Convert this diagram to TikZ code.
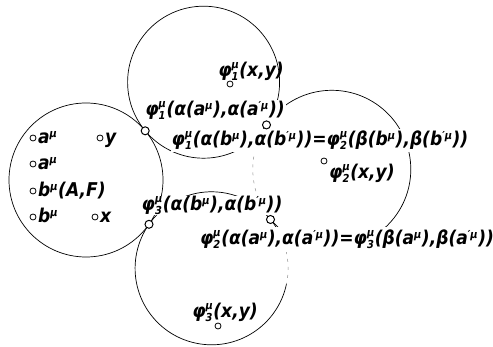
\documentclass[tikz,border=0pt]{standalone}
\usepackage{fontspec}
\setmainfont{DejaVu Sans Condensed}[BoldFont={DejaVu Sans Condensed Bold},ItalicFont={DejaVu Sans Condensed Oblique},BoldItalicFont={DejaVu Sans Condensed Bold Oblique}]
\newcommand\SmallT[1]{\mbox{\fontsize{11}{11}\selectfont #1}}
\newcommand\SpSb[2]{\ensuremath{^{\SmallT{#1}}_{\SmallT{#2}}}}
\newcommand\Sp[1]{\ensuremath{^{\SmallT{#1}}}}
\begin{document}
\begin{tikzpicture}[x=1pt,y=-1pt,
  ring/.style={line width=0.7pt},
  faint/.style={line width=0.5pt, black!45, dash pattern=on 3pt off 5pt},
  lab/.style={font=\fontsize{19}{22}\selectfont\bfseries\itshape, inner sep=1pt},
  mask/.style={lab, fill=white, inner xsep=1pt, inner ysep=2pt},
  pt/.style={circle, draw, line width=0.8pt, fill=white, minimum size=6pt, inner sep=0pt},
  jn/.style={pt, minimum size=8pt, line width=1pt}]
\useasboundingbox (0,0) rectangle (493,347);
\coordinate (cL) at (86,180);
\coordinate (cT) at (203.6,82.2);
\coordinate (cR) at (331.8,169.3);
\coordinate (cB) at (211.6,268.3);
% circles
\draw[ring] (cL) circle[radius=77];
\draw[ring] (cT) circle[radius=76];
\draw[ring] (cR) ++(214.2:79) arc[start angle=214.2, end angle=500.7, radius=79];
\draw[faint] (cR) ++(140.7:79) arc[start angle=140.7, end angle=214.2, radius=79];
\draw[ring] (cB) ++(12:76.5) arc[start angle=12, end angle=335, radius=76.5];
\draw[faint] (cB) ++(-25:76.5) arc[start angle=-25, end angle=12, radius=76.5];
% labels
\node[lab, anchor=base] (l1) at (251,77) {φ\SpSb{μ}{1}(x,y)};
\node[mask, anchor=base] (l2) at (215,116) {φ\SpSb{μ}{1}(α(a\Sp{μ}),α(a\Sp{′μ}))};
\node[mask, anchor=base] (l3) at (320,146) {φ\SpSb{μ}{1}(α(b\Sp{μ}),α(b\Sp{′μ}))=φ\SpSb{μ}{2}(β(b\Sp{μ}),β(b\Sp{′μ}))};
\node[lab, anchor=base west] (l4) at (328,179) {φ\SpSb{μ}{2}(x,y)};
\node[mask, anchor=base, inner ysep=0.5pt] (l5) at (212,211) {φ\SpSb{μ}{3}(α(b\Sp{μ}),α(b\Sp{′μ}))};
\node[mask, anchor=base, inner ysep=3pt] (l6) at (347,245) {φ\SpSb{μ}{2}(α(a\Sp{μ}),α(a\Sp{′μ}))=φ\SpSb{μ}{3}(β(a\Sp{μ}),β(a\Sp{′μ}))};
\node[lab, anchor=base] (l7) at (225,318) {φ\SpSb{μ}{3}(x,y)};
% left set
\node[lab, anchor=base west] (ta1) at (37,144) {a\Sp{μ}};
\node[lab, anchor=base west] (ty) at (104,144) {y};
\node[lab, anchor=base west] (ta2) at (37,170) {a\Sp{μ}};
\node[lab, anchor=base west] (tb1) at (37,197) {b\Sp{μ}(A,F)};
\node[lab, anchor=base west] (tb2) at (37,223) {b\Sp{μ}};
\node[lab, anchor=base west] (tx) at (99,223) {x};
% points
\node[pt] (pa1) at (33,138) {};
\node[pt] (py) at (100,138) {};
\node[pt] (pa2) at (33,164) {};
\node[pt] (pb1) at (33,191) {};
\node[pt] (pb2) at (33,217) {};
\node[pt] (px) at (95,217) {};
\node[pt] (p1) at (230,84) {};
\node[pt] (p2) at (324,161) {};
\node[pt] (p3) at (218,326) {};
% junctions
\node[jn] (j1) at (145.2,130.8) {};
\node[jn] (j2) at (266.5,124.9) {};
\node[jn] (j3) at (149,224.3) {};
\node[jn] (j4) at (270.5,219.5) {};
\end{tikzpicture}
\end{document}
